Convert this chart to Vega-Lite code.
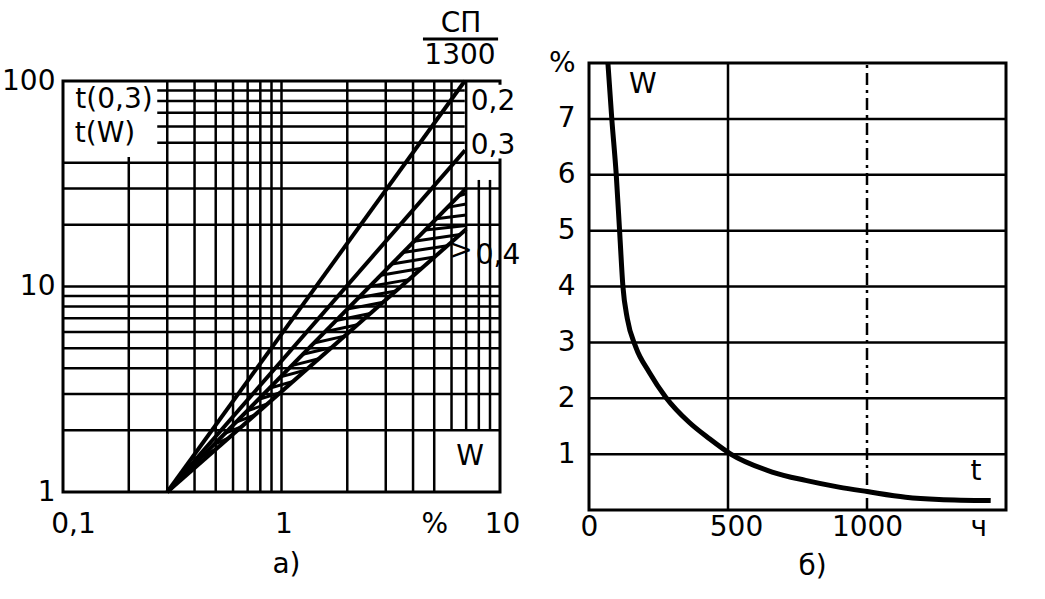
{
  "$schema": "https://vega.github.io/schema/vega-lite/v6.json",
  "background": "white",
  "padding": {"left": 0, "top": 8, "right": 5, "bottom": 5},
  "spacing": 89,
  "bounds": "flush",
  "center": true,
  "config": {"font": "DejaVu Sans", "view": {"stroke": "black", "strokeWidth": 3}},
  "datasets": {
    "gridL": [
      {"x": 0.2, "x2": 0.2, "y": 1, "y2": 42.7},
      {"x": 0.3, "x2": 0.3, "y": 1, "y2": 100},
      {"x": 0.4, "x2": 0.4, "y": 1, "y2": 100},
      {"x": 0.5, "x2": 0.5, "y": 1, "y2": 100},
      {"x": 0.6, "x2": 0.6, "y": 1, "y2": 100},
      {"x": 0.7, "x2": 0.7, "y": 1, "y2": 100},
      {"x": 0.8, "x2": 0.8, "y": 1, "y2": 100},
      {"x": 0.9, "x2": 0.9, "y": 1, "y2": 100},
      {"x": 1, "x2": 1, "y": 1, "y2": 100},
      {"x": 2, "x2": 2, "y": 1, "y2": 100},
      {"x": 3, "x2": 3, "y": 1, "y2": 100},
      {"x": 4, "x2": 4, "y": 1, "y2": 100},
      {"x": 5, "x2": 5, "y": 1, "y2": 100},
      {"x": 6, "x2": 6, "y": 2, "y2": 100},
      {"x": 7, "x2": 7, "y": 2, "y2": 100},
      {"x": 8, "x2": 8, "y": 2, "y2": 33},
      {"x": 9, "x2": 9, "y": 2, "y2": 33},
      {"x": 0.1, "x2": 10, "y": 2, "y2": 2},
      {"x": 0.1, "x2": 10, "y": 3, "y2": 3},
      {"x": 0.1, "x2": 10, "y": 4, "y2": 4},
      {"x": 0.1, "x2": 10, "y": 5, "y2": 5},
      {"x": 0.1, "x2": 10, "y": 6, "y2": 6},
      {"x": 0.1, "x2": 10, "y": 7, "y2": 7},
      {"x": 0.1, "x2": 10, "y": 8, "y2": 8},
      {"x": 0.1, "x2": 10, "y": 9, "y2": 9},
      {"x": 0.1, "x2": 10, "y": 10, "y2": 10},
      {"x": 0.1, "x2": 10, "y": 20, "y2": 20},
      {"x": 0.1, "x2": 10, "y": 30, "y2": 30},
      {"x": 0.1, "x2": 10, "y": 40, "y2": 40},
      {"x": 0.27, "x2": 6.9, "y": 50, "y2": 50},
      {"x": 0.27, "x2": 6.9, "y": 60, "y2": 60},
      {"x": 0.27, "x2": 6.9, "y": 70, "y2": 70},
      {"x": 0.27, "x2": 6.9, "y": 80, "y2": 80},
      {"x": 0.27, "x2": 6.9, "y": 90, "y2": 90}
    ],
    "maskL": [
      {"x": 7.15, "x2": 11, "y": 42, "y2": 96}
    ],
    "linesL": [
      {"line": "0,2", "x": 0.3, "y": 1},
      {"line": "0,2", "x": 6.9, "y": 100},
      {"line": "0,3", "x": 0.3, "y": 1},
      {"line": "0,3", "x": 6.92, "y": 46},
      {"line": "band upper", "x": 0.3, "y": 1},
      {"line": "band upper", "x": 7.0, "y": 30},
      {"line": "band lower", "x": 0.3, "y": 1},
      {"line": "band lower", "x": 7.0, "y": 19}
    ],
    "hatchL": [
      {"x": 0.3875, "y": 1.318, "x2": 0.4377, "y2": 1.423},
      {"x": 0.4358, "y": 1.496, "x2": 0.5012, "y2": 1.616},
      {"x": 0.4898, "y": 1.698, "x2": 0.5738, "y2": 1.834},
      {"x": 0.5508, "y": 1.928, "x2": 0.6571, "y2": 2.082},
      {"x": 0.6194, "y": 2.188, "x2": 0.7524, "y2": 2.363},
      {"x": 0.6965, "y": 2.483, "x2": 0.8616, "y2": 2.682},
      {"x": 0.783, "y": 2.818, "x2": 0.9867, "y2": 3.044},
      {"x": 0.8807, "y": 3.199, "x2": 1.13, "y2": 3.455},
      {"x": 0.9901, "y": 3.631, "x2": 1.294, "y2": 3.922},
      {"x": 1.114, "y": 4.121, "x2": 1.482, "y2": 4.451},
      {"x": 1.252, "y": 4.677, "x2": 1.697, "y2": 5.052},
      {"x": 1.408, "y": 5.309, "x2": 1.943, "y2": 5.734},
      {"x": 1.583, "y": 6.026, "x2": 2.225, "y2": 6.508},
      {"x": 1.78, "y": 6.839, "x2": 2.547, "y2": 7.387},
      {"x": 2.001, "y": 7.762, "x2": 2.917, "y2": 8.384},
      {"x": 2.251, "y": 8.81, "x2": 3.34, "y2": 9.515},
      {"x": 2.531, "y": 10, "x2": 3.824, "y2": 10.8},
      {"x": 2.846, "y": 11.35, "x2": 4.378, "y2": 12.26},
      {"x": 3.2, "y": 12.88, "x2": 5.014, "y2": 13.91},
      {"x": 3.597, "y": 14.62, "x2": 5.741, "y2": 15.79},
      {"x": 4.046, "y": 16.6, "x2": 6.574, "y2": 17.92},
      {"x": 4.549, "y": 18.84, "x2": 7.0, "y2": 19.8},
      {"x": 5.115, "y": 21.38, "x2": 7.0, "y2": 22.3},
      {"x": 5.75, "y": 24.27, "x2": 7.0, "y2": 25.2},
      {"x": 6.466, "y": 27.54, "x2": 7.0, "y2": 28.3},
      {"x": 4.44, "y": 160, "x2": 9.8, "y2": 160}
    ],
    "textL": [
      {"x": 6.63, "y": 189, "label": "СП"},
      {"x": 6.56, "y": 131.6, "label": "1300"},
      {"x": 0.1712, "y": 80.8, "label": "t(0,3)"},
      {"x": 0.1557, "y": 55.2, "label": "t(W)"},
      {"x": 9.29, "y": 79, "label": "0,2"},
      {"x": 9.29, "y": 48.3, "label": "0,3"},
      {"x": 6.63, "y": 14.9, "label": ">"},
      {"x": 9.79, "y": 14.1, "label": "0,4"},
      {"x": 7.29, "y": 1.48, "label": "W"}
    ],
    "gridR": [
      {"x": 0, "x2": 1500, "y": 1, "y2": 1},
      {"x": 0, "x2": 1500, "y": 2, "y2": 2},
      {"x": 0, "x2": 1500, "y": 3, "y2": 3},
      {"x": 0, "x2": 1500, "y": 4, "y2": 4},
      {"x": 0, "x2": 1500, "y": 5, "y2": 5},
      {"x": 0, "x2": 1500, "y": 6, "y2": 6},
      {"x": 0, "x2": 1500, "y": 7, "y2": 7},
      {"x": 500, "x2": 500, "y": 0, "y2": 8}
    ],
    "dashR": [
      {"x": 1000, "x2": 1000, "y": 0, "y2": 8}
    ],
    "curveR": [
      {"t": 68, "w": 8.0},
      {"t": 82, "w": 7.0},
      {"t": 98, "w": 6.0},
      {"t": 110, "w": 5.0},
      {"t": 122, "w": 4.0},
      {"t": 138, "w": 3.42},
      {"t": 168, "w": 2.92},
      {"t": 216, "w": 2.47},
      {"t": 276, "w": 2.02},
      {"t": 360, "w": 1.57},
      {"t": 432, "w": 1.28},
      {"t": 510, "w": 1.0},
      {"t": 659, "w": 0.68},
      {"t": 779, "w": 0.53},
      {"t": 899, "w": 0.41},
      {"t": 1001, "w": 0.33},
      {"t": 1139, "w": 0.23},
      {"t": 1259, "w": 0.19},
      {"t": 1445, "w": 0.17}
    ],
    "textR": [
      {"x": 194, "y": 7.6, "label": "W"},
      {"x": 1392, "y": 0.68, "label": "t"}
    ]
  },
  "hconcat": [
    {
      "width": 437,
      "height": 411,
      "layer": [
        {
          "data": {"name": "gridL"},
          "mark": {"type": "rule", "color": "black", "strokeWidth": 2.5},
          "encoding": {
            "x": {
              "field": "x", "type": "quantitative",
              "scale": {"type": "log", "domain": [0.1, 10], "nice": false},
              "axis": {
                "values": [0.1, 1, 4.9, 10],
                "labelExpr": "datum.value == 0.1 ? '0,1' : datum.value == 4.9 ? '%' : datum.value == 1 ? '1' : '10'",
                "grid": false, "ticks": false, "domain": false,
                "labelFont": "DejaVu Sans", "labelFontSize": 28, "labelColor": "black",
                "labelPadding": 18, "labelFlush": false, "labelOverlap": false, "labelBound": false,
                "labelOffset": {"condition": {"test": "datum.value == 0.1", "value": 10}, "value": 2},
                "title": "а)", "titleFont": "DejaVu Sans", "titleFontSize": 28, "titleFontWeight": "normal",
                "titleColor": "black", "titleX": 223, "titleY": 80, "titleBaseline": "alphabetic", "titleAlign": "center"
              }
            },
            "x2": {"field": "x2"},
            "y": {
              "field": "y", "type": "quantitative",
              "scale": {"type": "log", "domain": [1, 100], "nice": false},
              "axis": {
                "values": [1, 10, 100],
                "labelExpr": "datum.value == 1 ? '1' : datum.value == 10 ? '10' : '100'",
                "grid": false, "ticks": false, "domain": false,
                "labelFont": "DejaVu Sans", "labelFontSize": 28, "labelColor": "black",
                "labelPadding": 8, "labelFlush": false, "labelOverlap": false, "labelBound": false,
                "title": null
              }
            },
            "y2": {"field": "y2"}
          }
        },
        {
          "data": {"name": "maskL"},
          "mark": {"type": "rect", "fill": "white"},
          "encoding": {
            "x": {"field": "x", "type": "quantitative"},
            "x2": {"field": "x2"},
            "y": {"field": "y", "type": "quantitative"},
            "y2": {"field": "y2"}
          }
        },
        {
          "data": {"name": "linesL"},
          "mark": {"type": "line", "color": "black", "strokeWidth": 4},
          "encoding": {
            "x": {"field": "x", "type": "quantitative"},
            "y": {"field": "y", "type": "quantitative"},
            "detail": {"field": "line"}
          }
        },
        {
          "data": {"name": "hatchL"},
          "mark": {"type": "rule", "color": "black", "strokeWidth": 3},
          "encoding": {
            "x": {"field": "x", "type": "quantitative"},
            "x2": {"field": "x2"},
            "y": {"field": "y", "type": "quantitative"},
            "y2": {"field": "y2"}
          }
        },
        {
          "data": {"name": "textL"},
          "mark": {"type": "text", "font": "DejaVu Sans", "fontSize": 28, "align": "center", "baseline": "middle", "color": "black"},
          "encoding": {
            "x": {"field": "x", "type": "quantitative"},
            "y": {"field": "y", "type": "quantitative"},
            "text": {"field": "label"}
          }
        }
      ]
    },
    {
      "width": 417,
      "height": 447,
      "layer": [
        {
          "data": {"name": "gridR"},
          "mark": {"type": "rule", "color": "black", "strokeWidth": 2.5},
          "encoding": {
            "x": {
              "field": "x", "type": "quantitative",
              "scale": {"domain": [0, 1500], "nice": false},
              "axis": {
                "values": [0, 500, 1000, 1400],
                "labelExpr": "datum.value == 1400 ? 'ч' : '' + datum.value",
                "grid": false, "ticks": false, "domain": false,
                "labelFont": "DejaVu Sans", "labelFontSize": 28, "labelColor": "black",
                "labelPadding": 3, "labelFlush": false, "labelOverlap": false, "labelBound": false,
                "labelOffset": {"condition": {"test": "datum.value == 500", "value": 8}, "value": 0},
                "title": "б)", "titleFont": "DejaVu Sans", "titleFontSize": 28, "titleFontWeight": "normal",
                "titleColor": "black", "titleX": 223, "titleY": 64, "titleBaseline": "alphabetic", "titleAlign": "center"
              }
            },
            "x2": {"field": "x2"},
            "y": {
              "field": "y", "type": "quantitative",
              "scale": {"domain": [0, 8], "nice": false},
              "axis": {
                "values": [1, 2, 3, 4, 5, 6, 7, 8],
                "labelExpr": "datum.value == 8 ? '%' : '' + datum.value",
                "grid": false, "ticks": false, "domain": false,
                "labelFont": "DejaVu Sans", "labelFontSize": 28, "labelColor": "black",
                "labelPadding": 14, "labelFlush": false, "labelOverlap": false, "labelBound": false,
                "title": null
              }
            },
            "y2": {"field": "y2"}
          }
        },
        {
          "data": {"name": "dashR"},
          "mark": {"type": "rule", "color": "black", "strokeWidth": 2.5, "strokeDash": [12, 5, 3, 5]},
          "encoding": {
            "x": {"field": "x", "type": "quantitative"},
            "x2": {"field": "x2"},
            "y": {"field": "y", "type": "quantitative"},
            "y2": {"field": "y2"}
          }
        },
        {
          "data": {"name": "curveR"},
          "mark": {"type": "line", "color": "black", "strokeWidth": 5, "interpolate": "monotone"},
          "encoding": {
            "x": {"field": "t", "type": "quantitative"},
            "y": {"field": "w", "type": "quantitative"}
          }
        },
        {
          "data": {"name": "textR"},
          "mark": {"type": "text", "font": "DejaVu Sans", "fontSize": 28, "align": "center", "baseline": "middle", "color": "black"},
          "encoding": {
            "x": {"field": "x", "type": "quantitative"},
            "y": {"field": "y", "type": "quantitative"},
            "text": {"field": "label"}
          }
        }
      ]
    }
  ]
}
